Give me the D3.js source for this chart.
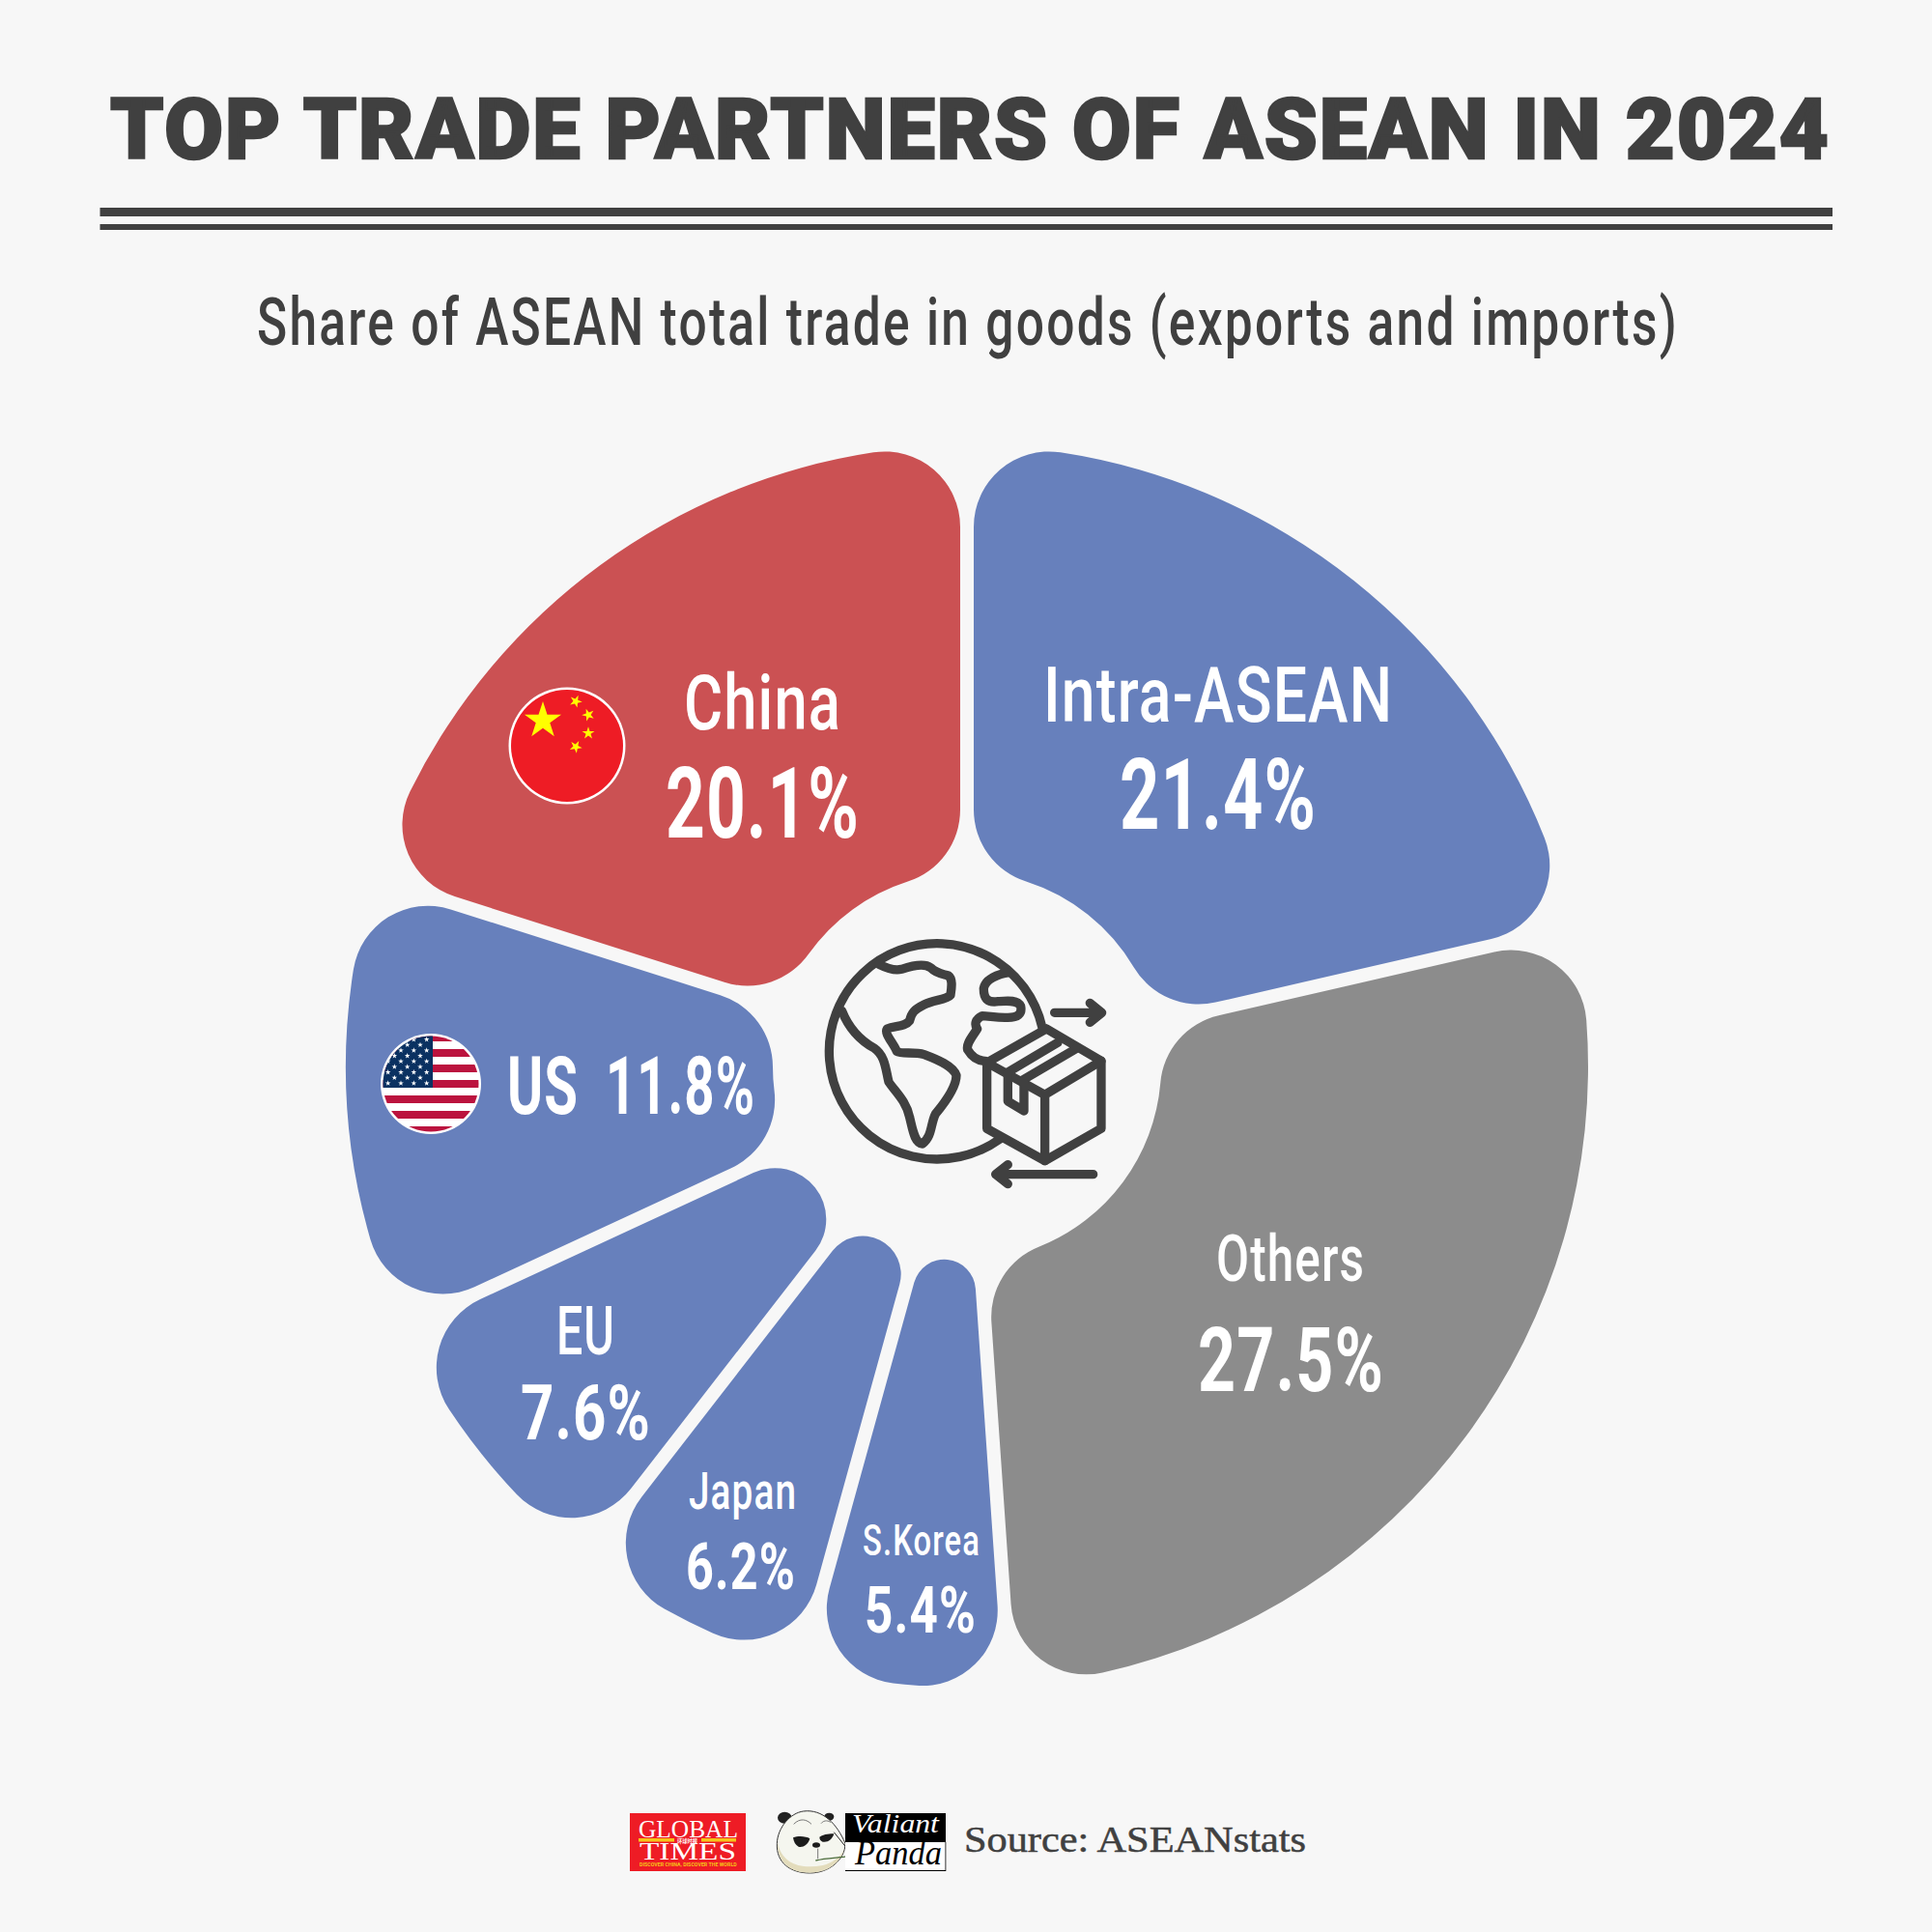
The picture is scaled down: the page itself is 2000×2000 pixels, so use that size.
<!DOCTYPE html>
<html>
<head>
<meta charset="utf-8">
<script src="https://cdnjs.cloudflare.com/ajax/libs/d3/7.9.0/d3.min.js"></script>
<style>
  html, body { margin: 0; padding: 0; background: #f7f7f7; }
  svg { display: block; }
</style>
</head>
<body>
<div id="chart"></div>
<script>
const partners = ['Intra-ASEAN', 'Others', 'S.Korea', 'Japan', 'EU', 'US', 'China']
const shares = [21.4, 27.5, 5.4, 6.2, 7.6, 11.8, 20.1]
const sliceColors = ['#6780bc', '#8c8c8c', '#6780bc', '#6780bc', '#6780bc', '#6780bc', '#cb5153']

const width = 2000, height = 2000
const dark = '#404040'
const cx = 1001, cy = 1104

const svg = d3.select('#chart').append('svg')
    .attr('width', width)
    .attr('height', height)

svg.append('rect').attr('width', width).attr('height', height).attr('fill', '#f7f7f7')

// measures the text, then squeezes it into the width
function label(text, x0, x1, baseline, size, opts = {}) {
    const t = svg.append('text')
        .attr('font-family', opts.font || 'Roboto')
        .attr('font-weight', opts.weight || 500)
        .attr('font-style', opts.italic ? 'italic' : 'normal')
        .attr('font-size', size)
        .attr('letter-spacing', opts.spacing || 0)
        .attr('fill', opts.fill || '#fff')
        .text(text)
    const w = t.node().getComputedTextLength() - (opts.spacing || 0)
    t.attr('transform', `translate(${x0},${baseline}) scale(${(x1 - x0) / w},1)`)
    return t
}

// header
label('TOP TRADE PARTNERS OF ASEAN IN 2024', 114, 1893, 164, 88, { weight: 900, fill: dark, spacing: 2 })
    .attr('stroke', dark).attr('stroke-width', 2.5)
svg.append('rect').attr('x', 103.5).attr('y', 215).attr('width', 1793.5).attr('height', 9).attr('fill', dark)
svg.append('rect').attr('x', 103.5).attr('y', 232).attr('width', 1793.5).attr('height', 6).attr('fill', dark)
label('Share of ASEAN total trade in goods (exports and imports)', 266, 1736, 357, 68, { weight: 500, fill: dark, spacing: 3 })

// pie: slice edges sit exactly on the shares, the gap comes from the arc only
const pie = d3.pie().sort(null).value(d => d)
const arc = d3.arc()
    .innerRadius(201)
    .outerRadius(643)
    .cornerRadius(78)
    .padRadius(684)
    .padAngle(0.0205)

svg.append('g')
    .attr('transform', `translate(${cx},${cy})`)
  .selectAll('path')
  .data(pie(shares))
  .enter()
  .append('path')
    .attr('d', arc)
    .attr('fill', (d, i) => sliceColors[i])

// slice labels, x range / baseline / size
const labelSpots = [
    ['Intra-ASEAN', 1080, 1441, 747, 80, 500],
    ['21.4%', 1159, 1362, 858, 102, 700],
    ['Others', 1259, 1412, 1326, 66, 500],
    ['27.5%', 1240, 1432, 1440, 92, 700],
    ['S.Korea', 893, 1014, 1610, 45, 500],
    ['5.4%', 895, 1010, 1690, 66, 700],
    ['Japan', 713, 824, 1562, 54, 500],
    ['6.2%', 710, 823, 1645, 66, 700],
    ['EU', 576, 636, 1402, 70, 500],
    ['7.6%', 539, 673, 1490, 80, 700],
    ['US', 525, 598, 1153, 83, 700],
    ['11.8%', 627, 781, 1153, 83, 700],
    ['China', 708, 870, 755, 79, 500],
    ['20.1%', 689, 889, 867, 102, 700]
]
labelSpots.forEach(s => label(s[0], s[1], s[2], s[3], s[4], { weight: s[5], spacing: 1.5 }))

// flags
function star(x, y, r, rot) {
    const pts = d3.range(10).map(i => {
        const a = rot + i * Math.PI / 5
        const rad = i % 2 ? r * 0.382 : r
        return [x + rad * Math.sin(a), y - rad * Math.cos(a)]
    })
    return 'M' + pts.join('L') + 'Z'
}

const cnX = 587, cnY = 772
svg.append('circle').attr('cx', cnX).attr('cy', cnY).attr('r', 60.5).attr('fill', '#fff')
svg.append('circle').attr('cx', cnX).attr('cy', cnY).attr('r', 58).attr('fill', '#ee1c25')
svg.append('path').attr('d', star(562, 746, 20, 0)).attr('fill', '#ffff00')
;[[596, 726, 0.4], [609, 740, 0.9], [609, 759, 0], [596, 773, 0.5]].forEach(s => {
    svg.append('path').attr('d', star(s[0], s[1], 6.8, s[2])).attr('fill', '#ffff00')
})

const usX = 446, usY = 1122, usR = 49.5
svg.append('circle').attr('cx', usX).attr('cy', usY).attr('r', 52).attr('fill', '#fff')
svg.append('clipPath').attr('id', 'usClip')
  .append('circle').attr('cx', usX).attr('cy', usY).attr('r', usR)
const us = svg.append('g').attr('clip-path', 'url(#usClip)')
d3.range(7).forEach(i => {
    us.append('rect').attr('x', usX - 55).attr('y', 1070 + i * 16)
        .attr('width', 110).attr('height', 8).attr('fill', '#bb133e')
})
us.append('rect').attr('x', usX - 55).attr('y', usY - 55).attr('width', 57).attr('height', 59).attr('fill', '#0a3161')
d3.range(9).forEach(r => {
    d3.range(r % 2 ? 3 : 4).forEach(c => {
        us.append('path')
            .attr('d', star(380 + (185 - 40 * c - (r % 2 ? 20 : 0)) / 3, 1050 + (78 + 17 * r) / 3, 3, 0))
            .attr('fill', '#fff')
    })
})

// centre icon, drawn in the crop's coordinates
const icon = svg.append('g')
    .attr('transform', 'translate(830,950) scale(0.3333)')
    .attr('fill', 'none')
    .attr('stroke', dark)
    .attr('stroke-width', 28)
    .attr('stroke-linecap', 'round')
    .attr('stroke-linejoin', 'round')
const iconPaths = [
    'M746.7 340.7A335 335 0 1 0 614.7 687.7',
    'M240 145C270 160 290 165 310 160C340 150 380 140 400 155C420 175 440 175 455 180C470 190 465 220 462 240C450 255 410 255 380 270C350 285 340 295 335 320C320 340 290 335 265 345C255 360 285 390 295 415C310 425 350 415 380 425C420 440 470 460 480 490C480 530 440 580 415 610C400 640 405 680 375 702C350 700 345 660 335 620C325 570 290 540 270 510C260 470 260 430 225 405C180 380 145 340 125 290',
    'M645 170C610 175 570 190 565 220C565 250 575 265 610 260C640 258 670 255 680 275C685 300 670 310 640 310C610 312 580 305 560 305C540 315 535 330 545 345C530 370 510 390 515 410C530 435 550 445 570 445',
    'M760 345L930 445V655L755 755L575 655V450L760 345',
    'M575 450L755 550L930 445M755 550V755',
    'M640 480L795 388M685 505L850 408',
    'M640 485V570L690 600V515',
    'M785 295H930M895 265L932 295L895 325',
    'M905 797H605M640 767L602 797L640 827'
]
iconPaths.forEach(d => icon.append('path').attr('d', d))

// Global Times logo
svg.append('rect').attr('x', 652).attr('y', 1877).attr('width', 120).attr('height', 60).attr('fill', '#ee1c25')
label('GLOBAL', 661, 764, 1902, 26, { font: 'Liberation Serif', weight: 400 })
svg.append('rect').attr('x', 661).attr('y', 1903).attr('width', 37).attr('height', 3.5).attr('fill', '#f5c518')
svg.append('rect').attr('x', 726).attr('y', 1903).attr('width', 36).attr('height', 3.5).attr('fill', '#f5c518')
label('环球时报', 701, 722, 1908, 5.5, { font: 'Noto Sans CJK SC', weight: 700 })
label('TIMES', 662, 762, 1925, 25, { font: 'Liberation Serif', weight: 400 })
label('DISCOVER CHINA, DISCOVER THE WORLD', 662, 763, 1932, 4.5, { fill: '#f5c518', weight: 700 })

// panda logo, drawn in the crop's coordinates
const panda = svg.append('g').attr('transform', 'translate(795,1865) scale(0.3333)')
panda.append('ellipse').attr('cx', 52).attr('cy', 50).attr('rx', 22).attr('ry', 18).attr('fill', '#222')
panda.append('ellipse').attr('cx', 190).attr('cy', 47).attr('rx', 15).attr('ry', 12).attr('fill', '#222')
panda.append('path')
    .attr('d', 'M110 30C170 22 215 70 240 130C240 180 190 222 130 222C70 222 25 190 28 130C30 80 70 35 110 30Z')
    .attr('fill', '#f5f6ef').attr('stroke', '#333').attr('stroke-width', 3)
panda.append('path')
    .attr('d', 'M30 125C40 190 100 212 170 198C200 190 222 175 236 150C222 195 180 221 130 221C70 221 28 190 30 125Z')
    .attr('fill', '#e3dcbc')
panda.append('path').attr('d', 'M78 112C95 105 120 108 130 115C125 135 105 145 95 140C85 135 80 125 78 112Z').attr('fill', '#1c1c1c')
panda.append('path').attr('d', 'M160 110C175 100 195 100 205 100C200 118 185 128 170 125C163 122 160 116 160 110Z').attr('fill', '#1c1c1c')
panda.append('ellipse').attr('cx', 150).attr('cy', 135).attr('rx', 12).attr('ry', 8).attr('fill', '#1c1c1c')
panda.append('path').attr('d', 'M80 70C100 50 120 55 135 70M165 68C175 55 190 60 195 65M155 146V178').attr('fill', 'none').attr('stroke', '#777').attr('stroke-width', 3)
panda.append('path').attr('d', 'M205 95L245 145').attr('stroke', '#222').attr('stroke-width', 3)
panda.append('path').attr('d', 'M148 183C180 175 215 175 250 170').attr('fill', 'none').attr('stroke', '#4a6b3a').attr('stroke-width', 4)

svg.append('rect').attr('x', 875).attr('y', 1877).attr('width', 104).attr('height', 30).attr('fill', '#000')
svg.append('rect').attr('x', 875).attr('y', 1907).attr('width', 104).attr('height', 30).attr('fill', '#fff')
svg.append('rect').attr('x', 875).attr('y', 1936).attr('width', 104).attr('height', 1).attr('fill', '#000')
svg.append('rect').attr('x', 978.5).attr('y', 1907).attr('width', 0.8).attr('height', 30).attr('fill', '#000')
panda.append('path').attr('d', 'M248 150V215').attr('stroke', '#aaa').attr('stroke-width', 8).attr('stroke-dasharray', '14 8')
label('Valiant', 882, 972, 1897, 28, { font: 'Liberation Serif', weight: 400, italic: true })
label('Panda', 885, 975, 1930, 35, { font: 'Liberation Serif', weight: 400, fill: '#000', italic: true })

label('Source: ASEANstats', 998, 1352, 1917, 38, { font: 'Liberation Serif', weight: 400, fill: dark })
    .attr('stroke', dark).attr('stroke-width', 0.5)
</script>
</body>
</html>
